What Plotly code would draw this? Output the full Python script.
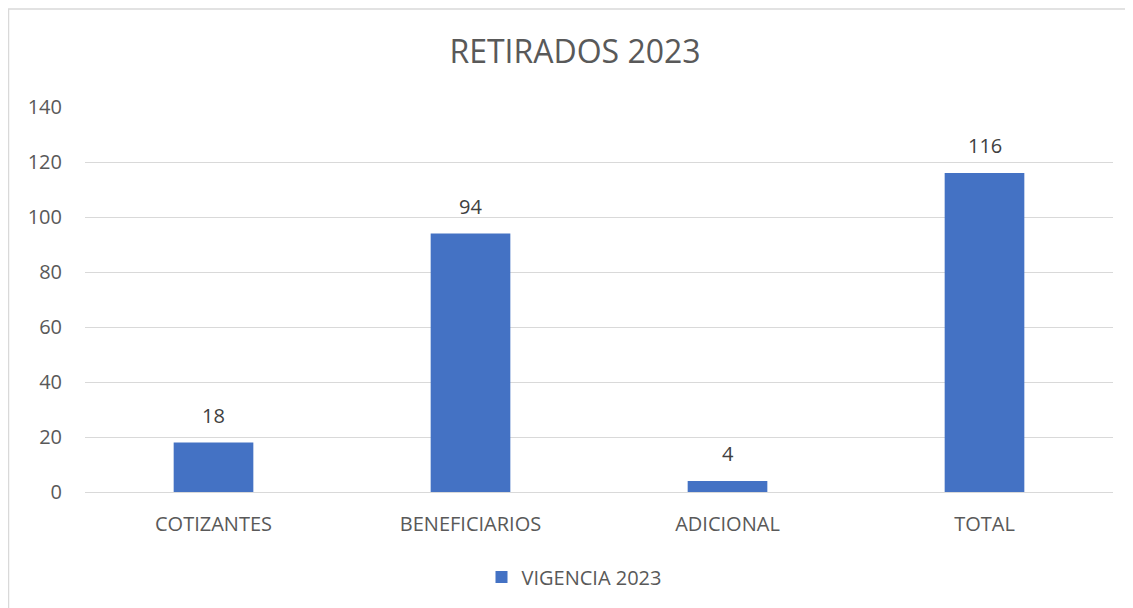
import plotly.graph_objects as go

categories = ["COTIZANTES", "BENEFICIARIOS", "ADICIONAL", "TOTAL"]
values = [18, 94, 4, 116]
series_name = "VIGENCIA 2023"
title_text = "RETIRADOS 2023"
y_ticks = [0, 20, 40, 60, 80, 100, 120, 140]

FONT = "Open Sans"
TXT = "#595959"

# page body has an 8px margin; figure sized to fit the window
W, H = 1125, 600
L, R, T, B = 77, 20, 99, 116
PW, PH = W - L - R, H - T - B

fig = go.Figure()
fig.add_trace(go.Bar(
    x=categories, y=values, name=series_name,
    marker=dict(color="#4472C4", line=dict(width=0)),
))

for c, v in zip(categories, values):
    fig.add_annotation(x=c, y=v, text=str(v), showarrow=False, yanchor="bottom",
                       yshift=12, font=dict(family=FONT, size=20, color="#404040"))

fig.update_layout(
    width=W, height=H,
    margin=dict(l=L, r=R, t=T, b=B),
    paper_bgcolor="white", plot_bgcolor="white",
    bargap=0.69,
    showlegend=True,
    title=dict(text=title_text, x=567 / W, xref="container", xanchor="center",
               y=1 - 44 / H, yref="container", yanchor="middle",
               font=dict(family=FONT, size=32, color=TXT)),
    legend=dict(orientation="h", x=0.5 - 25 / PW, xanchor="center", y=-0.221, yanchor="middle",
                font=dict(family=FONT, size=20, color=TXT)),
    xaxis=dict(showgrid=False, showline=False, ticks="", ticklabelstandoff=18,
               tickfont=dict(family=FONT, size=20, color=TXT)),
    yaxis=dict(range=[0, 140], tickvals=y_ticks, showgrid=True, gridcolor="#D9D9D9",
               gridwidth=1.3, zeroline=True, zerolinecolor="#D9D9D9", zerolinewidth=1.3,
               showline=False, ticks="", ticklabelstandoff=22,
               tickfont=dict(family=FONT, size=20, color=TXT)),
    shapes=[dict(type="rect", xref="paper", yref="paper",
                 x0=(0.5 - L) / PW, x1=1.3, y0=-0.6, y1=(PH + T - 1) / PH,
                 line=dict(color="#D9D9D9", width=1.5), fillcolor="rgba(0,0,0,0)",
                 layer="below")],
)

fig.write_html("out.html")
